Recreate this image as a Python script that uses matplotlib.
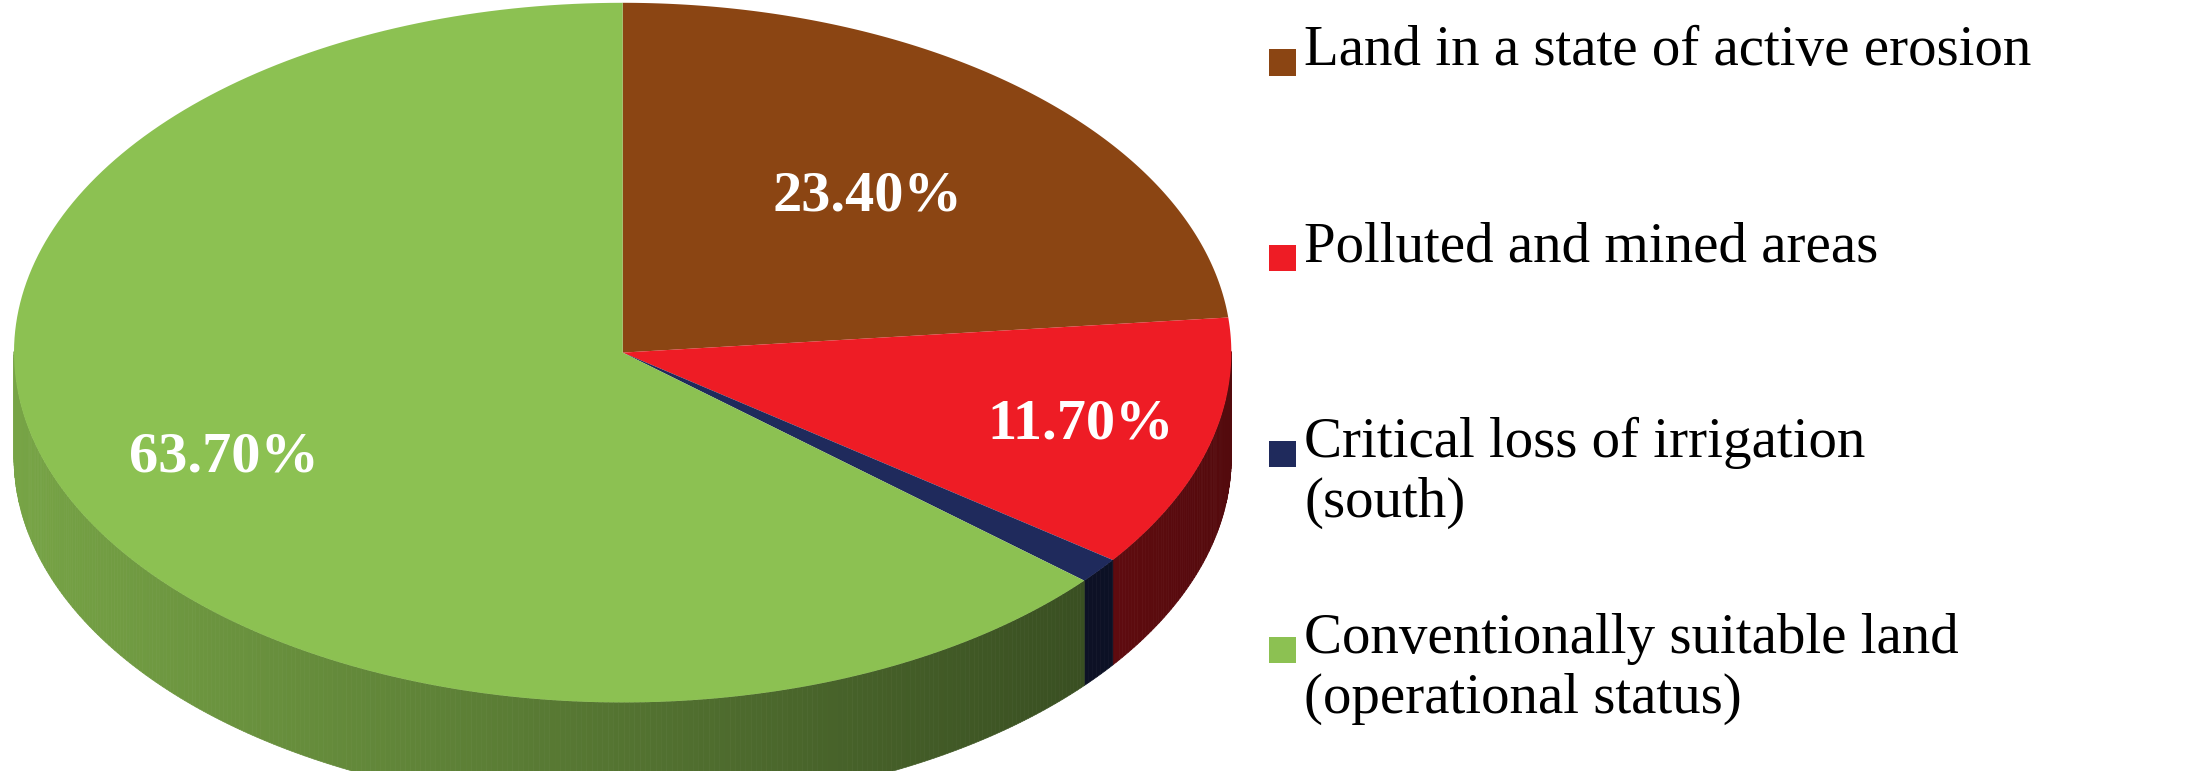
import numpy as np
import matplotlib
matplotlib.use("Agg")
import matplotlib.pyplot as plt
from matplotlib.patches import Polygon, Rectangle
import matplotlib.colors as mc

labels = ["Land in a state of active erosion", "Polluted and mined areas",
          "Critical loss of irrigation\n(south)", "Conventionally suitable land\n(operational status)"]
values = [23.40, 11.70, 1.20, 63.70]
colors = ["#8B4513", "#EE1C25", "#1F2A5C", "#8CC152"]
show_label = [True, True, False, True]

fig = plt.figure(figsize=(21.94, 7.71), dpi=100)
ax = fig.add_axes([0, 0, 1, 1])
ax.set_xlim(0, 1568); ax.set_ylim(551, 0); ax.axis("off")

cx, cy, rx, ry, depth = 445, 252, 435, 250, 75
def pt(t, dz=0):
    return cx + rx*np.cos(np.radians(t)), cy - ry*np.sin(np.radians(t)) + dz

total = sum(values)
start = 90.0
slices = []
for v in values:
    end = start - v/total*360
    slices.append((start, end)); start = end

# side walls
for (s, e), c in zip(slices, colors):
    ts = np.linspace(s, e, max(3, int(abs(s-e)*2)))
    base = np.array(mc.to_rgb(c))
    for a, b in zip(ts[:-1], ts[1:]):
        m = (a+b)/2 % 360
        if not (180 <= m <= 360):
            continue
        x0, y0 = pt(a); x1, y1 = pt(b)
        frac = (x0 - (cx-rx)) / (2*rx)
        shade = 0.85 - 0.5*frac
        col = np.clip(base*shade, 0, 1)
        ax.add_patch(Polygon([(x0, y0), (x1, y1), (x1, y1+depth), (x0, y0+depth)],
                             closed=True, fc=col, ec=col, lw=0.5))
# top
for (s, e), c in zip(slices, colors):
    ts = np.linspace(s, e, 200)
    xy = [(cx, cy)] + [pt(t) for t in ts]
    ax.add_patch(Polygon(xy, closed=True, fc=c, ec="none"))

label_r = [0.6, 0.78, 0.8, 0.72]
for (s, e), v, show, r in zip(slices, values, show_label, label_r):
    if not show: continue
    m = np.radians((s+e)/2)
    x = cx + rx*r*np.cos(m); y = cy - ry*r*np.sin(m)
    ax.text(x, y, f"{v:.2f}%", color="white", fontsize=42, fontweight="bold",
            family="Liberation Serif", ha="center", va="center")

# legend
ly = [45, 185, 325, 465]
for y, lab, c in zip(ly, labels, colors):
    ax.add_patch(Rectangle((907, y-10), 19, 19, fc=c, ec="none"))
    ax.text(932, y-27, lab, fontsize=41, family="Liberation Serif", va="top",
            ha="left", linespacing=1.2)

fig.savefig("out.png", dpi=100)
